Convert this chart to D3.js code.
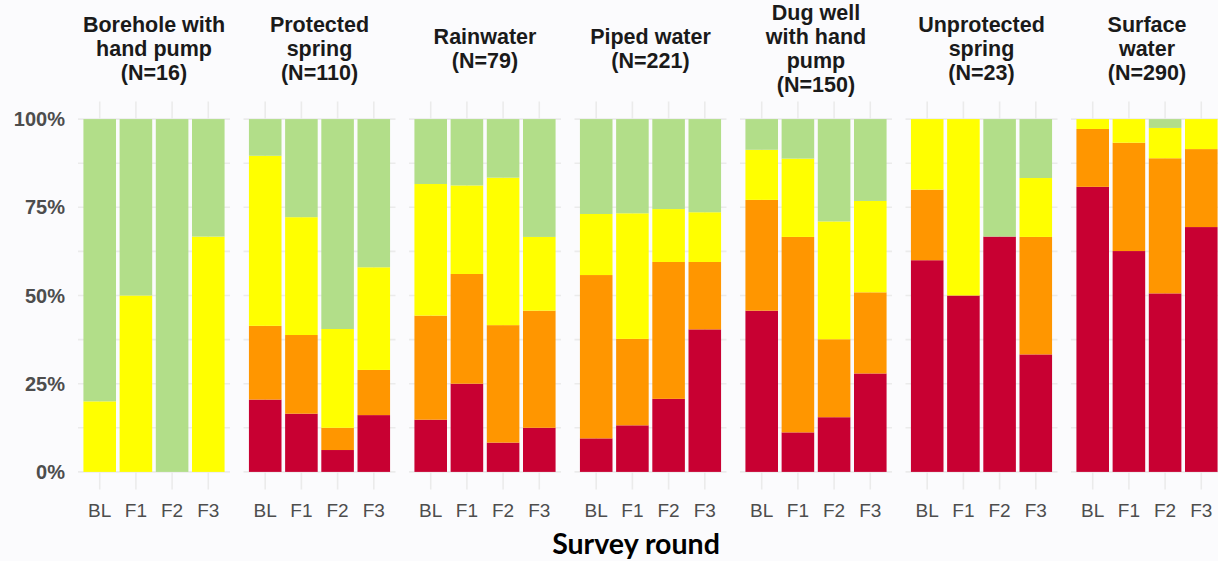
<!DOCTYPE html>
<html>
<head>
<meta charset="utf-8">
<script src="https://cdn.jsdelivr.net/npm/d3@7"></script>
<style>
  html, body { margin: 0; padding: 0; background: #fbfbfd; }
  svg { display: block; }
</style>
</head>
<body>
<div id="chart"></div>
<script>
// ---------- DATA ----------
const sourceNames = [
  ["Borehole with", "hand pump"],
  ["Protected", "spring"],
  ["Rainwater"],
  ["Piped water"],
  ["Dug well", "with hand", "pump"],
  ["Unprotected", "spring"],
  ["Surface", "water"]
];
const sourceN = [16, 110, 79, 221, 150, 23, 290];
const rounds = ["BL", "F1", "F2", "F3"];
const riskLevels = ["Very high", "High", "Intermediate", "Low"];
const riskColors = ["#c80032", "#ff9600", "#ffff00", "#b2de89"];

// percentages per source (rows) and survey round (columns)
const veryHighPct = [
  [0, 0, 0, 0],
  [20.5, 16.5, 6.2, 16.1],
  [14.8, 25.0, 8.3, 12.5],
  [9.5, 13.2, 20.7, 40.4],
  [45.7, 11.2, 15.5, 27.9],
  [60.0, 50.0, 66.7, 33.3],
  [80.8, 62.6, 50.6, 69.4]
];
const highPct = [
  [0, 0, 0, 0],
  [20.9, 22.3, 6.3, 12.8],
  [29.5, 31.1, 33.3, 33.2],
  [46.3, 24.5, 38.8, 19.1],
  [31.4, 55.4, 22.1, 23.0],
  [20.0, 0, 0, 33.3],
  [16.4, 30.7, 38.3, 22.1]
];
const intermediatePct = [
  [20.0, 50.0, 0, 66.7],
  [48.2, 33.4, 28.0, 29.1],
  [37.3, 25.1, 41.8, 20.9],
  [17.3, 35.6, 15.0, 14.1],
  [14.2, 22.2, 33.4, 25.9],
  [20.0, 50.0, 0, 16.7],
  [2.8, 6.7, 8.6, 8.5]
];
const lowPct = [
  [80.0, 50.0, 100.0, 33.3],
  [10.4, 27.8, 59.5, 42.0],
  [18.4, 18.8, 16.6, 33.4],
  [26.9, 26.7, 25.5, 26.4],
  [8.7, 11.2, 29.0, 23.2],
  [0, 0, 33.3, 16.7],
  [0, 0, 2.5, 0]
];
const yTicks = [0, 25, 50, 75, 100];

// ---------- LAYOUT ----------
const W = 1218, H = 561;
const panelLeft = 78, panelStep = 165.5, panelW = 152;
const yTop0 = 119.1, yBottom0 = 471.9;
const panelTop = 101.4, panelBottom = 489.6;

const svg = d3.select("#chart").append("svg")
  .attr("width", W).attr("height", H);
svg.append("rect").attr("width", W).attr("height", H).attr("fill", "#fbfbfd");

const y = d3.scaleLinear().domain([0, 100]).range([yBottom0, yTop0]);
const panelX = d3.scaleLinear().domain([0, 1]).range([panelLeft, panelLeft + panelStep]);
const gridColor = "#ebebeb";

const stackKeys = riskLevels;
const levelArrays = [veryHighPct, highPct, intermediatePct, lowPct];

sourceNames.forEach((nameLines, si) => {
  const x0 = panelX(si);
  const x = d3.scaleBand().domain(rounds).range([x0, x0 + panelW])
    .paddingInner(0.1).paddingOuter(0.15);
  const g = svg.append("g");

  // horizontal grid (major + minor)
  const gridVals = d3.range(0, 100.01, 12.5);
  g.selectAll("line.h").data(gridVals).enter().append("line")
    .attr("x1", x0).attr("x2", x0 + panelW)
    .attr("y1", d => y(d)).attr("y2", d => y(d))
    .attr("stroke", gridColor).attr("stroke-width", 1.6);
  // vertical grid
  g.selectAll("line.v").data(rounds).enter().append("line")
    .attr("x1", d => x(d) + x.bandwidth() / 2).attr("x2", d => x(d) + x.bandwidth() / 2)
    .attr("y1", panelTop).attr("y2", panelBottom)
    .attr("stroke", gridColor).attr("stroke-width", 1.6);

  // stacked data
  const rows = rounds.map((r, ri) => {
    const o = { round: r };
    stackKeys.forEach((k, ki) => { o[k] = levelArrays[ki][si][ri]; });
    return o;
  });
  const series = d3.stack().keys(stackKeys)(rows);
  series.forEach((s, ki) => {
    g.selectAll(null).data(s).enter().append("rect")
      .attr("x", d => x(d.data.round))
      .attr("width", x.bandwidth())
      .attr("y", d => y(d[1]))
      .attr("height", d => Math.max(0, y(d[0]) - y(d[1])))
      .attr("fill", riskColors[ki]);
  });

  // x tick labels
  g.selectAll("text.xt").data(rounds).enter().append("text")
    .attr("x", d => x(d) + x.bandwidth() / 2)
    .attr("y", 517)
    .attr("text-anchor", "middle")
    .attr("font-family", "'Liberation Sans', Arial, sans-serif")
    .attr("font-size", 19)
    .attr("fill", "#4d4d4d")
    .text(d => d);

  // strip title
  const lines = nameLines.concat([`(N=${sourceN[si]})`]);
  const n = lines.length;
  const t = g.append("text")
    .attr("text-anchor", "middle")
    .attr("font-family", "'Liberation Sans', Arial, sans-serif")
    .attr("font-weight", "bold")
    .attr("font-size", 21.5)
    .attr("fill", "#1a1a1a");
  lines.forEach((ln, li) => {
    t.append("tspan")
      .attr("x", x0 + panelW / 2)
      .attr("y", 55.5 + (li - (n - 1) / 2) * 24)
      .text(ln);
  });
});

// y axis labels
svg.selectAll("text.yt").data(yTicks).enter().append("text")
  .attr("x", 65)
  .attr("y", d => y(d) + 7)
  .attr("text-anchor", "end")
  .attr("font-family", "'Liberation Sans', Arial, sans-serif")
  .attr("font-weight", "bold")
  .attr("font-size", 20)
  .attr("fill", "#4d4d4d")
  .text(d => d + "%");

// x axis title
svg.append("text")
  .attr("x", 636).attr("y", 554)
  .attr("text-anchor", "middle")
  .attr("font-family", "Lato, sans-serif")
  .attr("font-weight", "bold")
  .attr("font-size", 28.5)
  .attr("fill", "#000")
  .text("Survey round");
</script>
</body>
</html>
